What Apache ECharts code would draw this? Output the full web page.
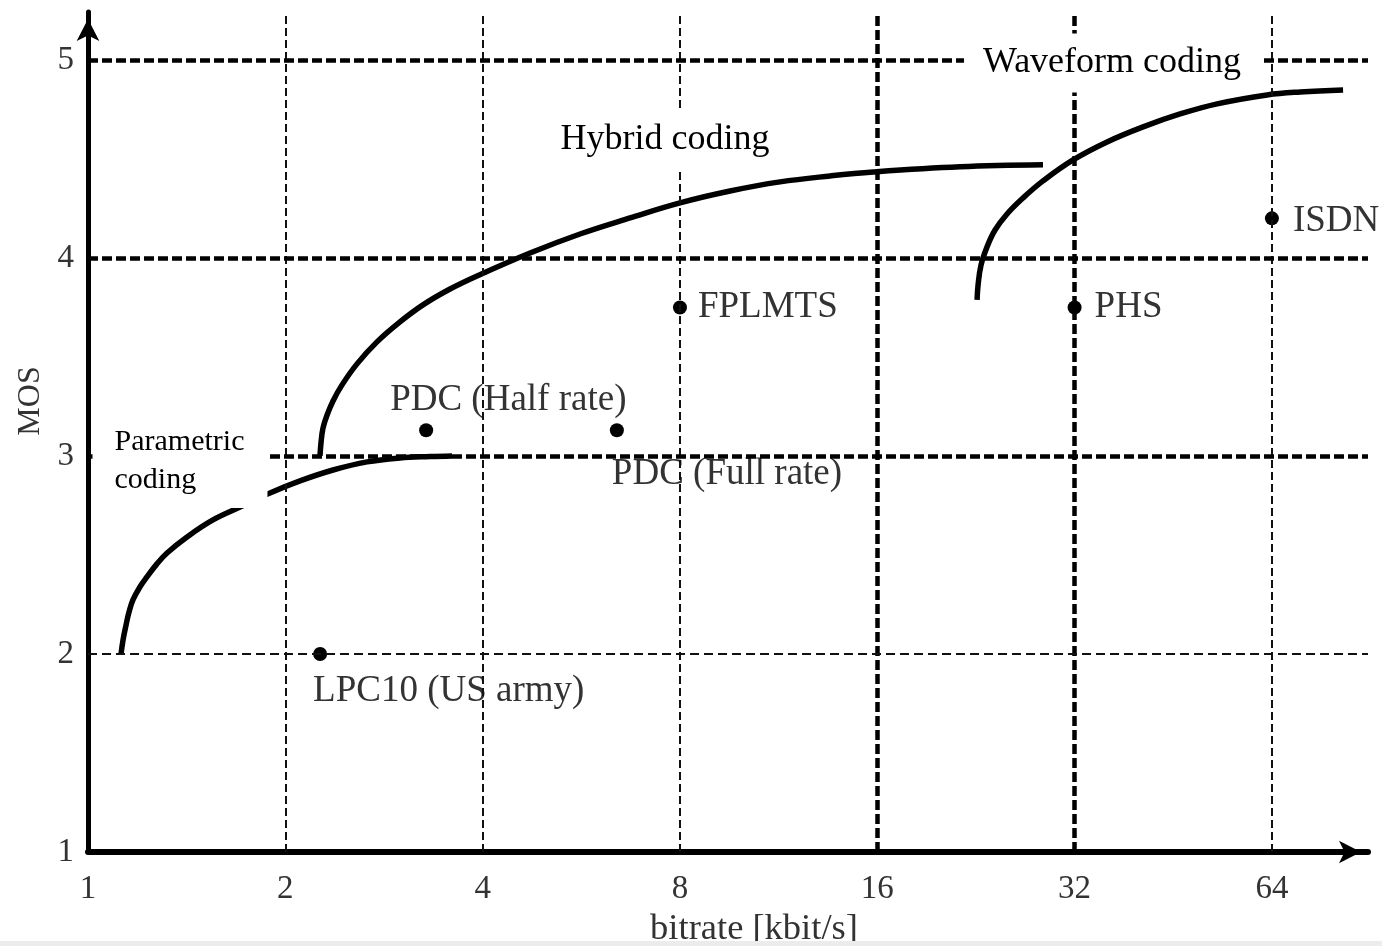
<!DOCTYPE html>
<html>
<head>
<meta charset="utf-8">
<script src="https://cdn.jsdelivr.net/npm/echarts@6/dist/echarts.min.js"></script>
<style>
  html, body { margin: 0; padding: 0; background: #fff; }
  #chart { width: 1382px; height: 946px; }
</style>
</head>
<body>
<div id="chart"></div>
<script>
// Axis ticks (bitrate on a log2 scale, MOS linear)
const xTicks = [1, 2, 4, 8, 16, 32, 64];
const yTicks = [1, 2, 3, 4, 5];
const boldXLines = [16, 32];
const boldYLines = [3, 4, 5];

// Quality curves per coder family: [bitrate kbit/s, MOS]
const parametricCurve = [
  [1.123, 2.000], [1.131, 2.071], [1.143, 2.146], [1.155, 2.212], [1.171, 2.273],
  [1.200, 2.338], [1.230, 2.389], [1.274, 2.455], [1.320, 2.510], [1.416, 2.591],
  [1.551, 2.677], [1.706, 2.742], [1.895, 2.813], [2.106, 2.874], [2.365, 2.929],
  [2.665, 2.970], [2.992, 2.990], [3.325, 2.997], [3.592, 3.000]
];
const hybridCurve = [
  [2.259, 3.000], [2.267, 3.066], [2.283, 3.141], [2.316, 3.207], [2.365, 3.278],
  [2.441, 3.359], [2.573, 3.465], [2.760, 3.576], [2.992, 3.677], [3.244, 3.763],
  [3.567, 3.843], [3.922, 3.909], [4.725, 4.025], [5.632, 4.121], [6.713, 4.202],
  [8.000, 4.278], [9.540, 4.338], [11.37, 4.384], [13.56, 4.414], [15.77, 4.434],
  [21.40, 4.460], [28.64, 4.470]
];
const waveformCurve = [
  [22.72, 3.788], [22.80, 3.864], [23.04, 3.965], [23.53, 4.056], [24.20, 4.141],
  [25.24, 4.222], [26.70, 4.303], [28.64, 4.389], [31.83, 4.495], [35.87, 4.586],
  [40.71, 4.662], [46.36, 4.727], [52.80, 4.778], [62.92, 4.823], [70.68, 4.838],
  [82.18, 4.848]
];

// Individual coders
const codecNames = ['LPC10 (US army)', 'PDC (Half rate)', 'PDC (Full rate)', 'FPLMTS', 'PHS', 'ISDN'];
const codecRates = [2.26, 3.28, 6.41, 8, 32, 64];
const codecMOS = [2.0, 3.13, 3.13, 3.75, 3.75, 4.2];

// Family captions
const familyNames = ['Parametric\ncoding', 'Hybrid coding', 'Waveform coding'];
const familyRates = [1.016, 7.59, 36.5];
const familyMOS = [2.975, 4.6, 4.985];

const FONT = '"Liberation Serif", "Times New Roman", serif';

// label placement for each coder (offset from the dot's box)
const codecLabelPos = {
  'LPC10 (US army)': [0, 44],
  'PDC (Half rate)': [-29, -23],
  'PDC (Full rate)': [2, 51],
  'FPLMTS': [25, 7],
  'PHS': [27, 7],
  'ISDN': [28, 10]
};
const familyLabelStyle = {
  'Parametric\ncoding': { position: 'right', distance: 0, align: 'left', fontSize: 30, lineHeight: 38, padding: [10, 23, 8, 22] },
  'Hybrid coding': { position: 'inside', fontSize: 36, padding: [18, 55, 8, 55] },
  'Waveform coding': { position: 'inside', fontSize: 36, padding: [15, 19, 8, 19] }
};

const thinDash = { color: '#111', width: 2, type: [8, 4] };
const thinDashH = { color: '#111', width: 2, type: [9, 5] };
const boldDash = { color: '#000', width: 4.5, type: [10, 4] };

const gridLines = [
  ...xTicks.filter(v => v > 1).map(v => ({ xAxis: v, lineStyle: boldXLines.includes(v) ? boldDash : thinDash })),
  ...yTicks.filter(v => v > 1).map(v => ({ yAxis: v, lineStyle: boldYLines.includes(v) ? boldDash : thinDashH }))
];

const curveStyle = { color: '#000', width: 5.5, cap: 'butt' };
const curveSeries = (name, data) => ({
  type: 'line', name, data, smooth: 0.4,
  showSymbol: false, lineStyle: curveStyle, z: 3
});

const chart = echarts.init(document.getElementById('chart'), null, { renderer: 'canvas' });
chart.setOption({
  animation: false,
  backgroundColor: '#fff',
  grid: { left: 88, right: 14, top: 12, bottom: 94, containLabel: false, outerBoundsMode: 'none' },
  xAxis: {
    type: 'log', logBase: 2, min: 1, max: 89.7,
    name: 'bitrate [kbit/s]', nameLocation: 'middle', nameGap: 55,
    nameTextStyle: { fontFamily: FONT, fontSize: 36.5, color: '#333', padding: [0, 0, 0, 52] },
    axisLine: {
      onZero: false, lineStyle: { color: '#000', width: 6 },
      symbol: ['none', 'arrow'], symbolSize: [17, 22], symbolOffset: [0, -7]
    },
    axisTick: { show: false },
    splitLine: { show: false },
    axisLabel: {
      fontFamily: FONT, fontSize: 33, color: '#333', margin: 21,
      formatter: v => { const r = Math.round(v); return (Math.abs(v - r) < 1e-6 && xTicks.includes(r)) ? String(r) : ''; }
    }
  },
  yAxis: {
    type: 'value', min: 1, max: 5.242, interval: 1,
    name: 'MOS', nameLocation: 'middle', nameGap: 40,
    nameTextStyle: { fontFamily: FONT, fontSize: 32, color: '#333', padding: [0, 0, 0, 62] },
    axisLine: {
      onZero: false, lineStyle: { color: '#000', width: 5 },
      symbol: ['none', 'arrow'], symbolSize: [17, 22], symbolOffset: [0, -7]
    },
    axisTick: { show: false },
    splitLine: { show: false },
    axisLabel: {
      fontFamily: FONT, fontSize: 33, color: '#333', margin: 14,
      formatter: v => (Math.abs(v - Math.round(v)) < 1e-6 && yTicks.includes(Math.round(v))) ? String(Math.round(v)) : ''
    }
  },
  graphic: [{
    type: 'rect', left: 0, bottom: 0, z: 100,
    shape: { width: 1382, height: 5 }, style: { fill: '#ececec' }
  }],
  series: [
    {
      type: 'line', name: 'grid', data: [], z: 1, silent: true,
      markLine: { silent: true, symbol: ['none', 'none'], label: { show: false }, data: gridLines }
    },
    curveSeries('Parametric coding', parametricCurve),
    curveSeries('Hybrid coding', hybridCurve),
    curveSeries('Waveform coding', waveformCurve),
    {
      type: 'scatter', name: 'coders', z: 4, symbol: 'circle', symbolSize: 14,
      itemStyle: { color: '#000', opacity: 1 },
      data: codecNames.map((n, i) => ({
        name: n, value: [codecRates[i], codecMOS[i]],
        label: {
          show: true, formatter: n, position: codecLabelPos[n], align: 'left', verticalAlign: 'middle',
          fontFamily: FONT, fontSize: 37, color: '#333'
        }
      }))
    },
    {
      type: 'scatter', name: 'families', z: 6, symbolSize: 0, silent: true,
      itemStyle: { color: '#fff', opacity: 1 },
      data: familyNames.map((n, i) => {
        const s = familyLabelStyle[n];
        return {
          name: n, value: [familyRates[i], familyMOS[i]],
          label: Object.assign({
            show: true, formatter: n, verticalAlign: 'middle',
            fontFamily: FONT, color: '#000', backgroundColor: '#fff'
          }, s)
        };
      })
    }
  ]
});
</script>
</body>
</html>
